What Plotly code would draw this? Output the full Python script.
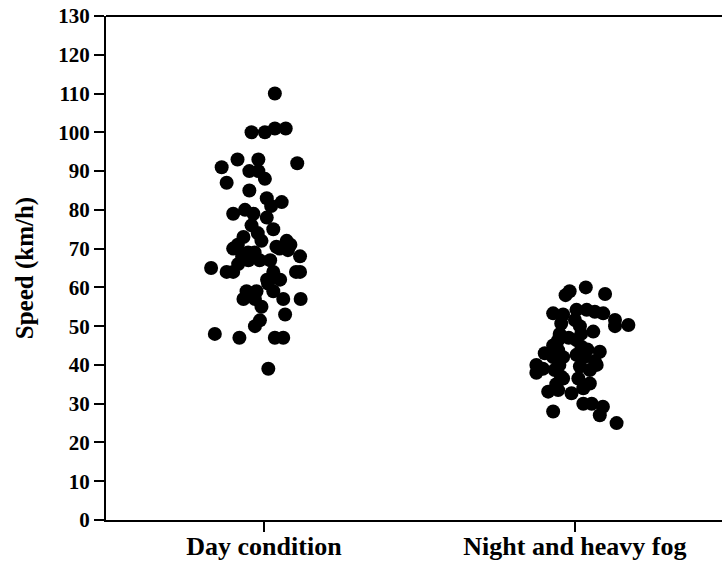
import plotly.graph_objects as go

categories = ["Day condition", "Night and heavy fog"]
cat_pos = [1, 2]

# Day condition: horizontal jitter offsets (category units) and speeds (km/h)
day_jitter = [0.035, -0.04, 0.003, 0.035, 0.07, -0.136, -0.085, -0.018, 0.107,
              -0.047, -0.018, 0.003, -0.12, -0.047, 0.009, 0.057, 0.023,
              -0.099, -0.061, -0.034, 0.009, -0.04, 0.03, -0.066, 0.073,
              -0.099, -0.008, 0.04, 0.077, 0.116, -0.083, -0.05, -0.051,
              -0.014, 0.02, 0.116, -0.17, -0.12, -0.099, 0.103, 0.03, 0.052,
              -0.056, -0.024, 0.03, -0.066, -0.029, 0.062, 0.118, -0.008,
              0.068, -0.013, -0.029, -0.158, -0.079, 0.035, 0.062, 0.014,
              0.013, -0.084, -0.02, 0.05, -0.07, 0.01, 0.085, -0.03]
day_speed = [110, 100, 100, 101, 101, 91, 93, 93, 92,
             90, 90, 88, 87, 85, 83, 82, 81,
             79, 80, 79, 78, 76, 75, 73, 72,
             70, 72, 70.5, 69.6, 68, 66, 67, 69,
             67, 67, 64, 65, 64, 64, 64, 64, 62,
             59, 59, 59, 57, 57, 57, 57, 55,
             53, 51.5, 50, 48, 47, 47, 47, 39,
             61, 71, 74, 70, 68, 62, 71, 69]

# Night and heavy fog: horizontal jitter offsets and speeds (km/h)
night_jitter = [-0.03, -0.017, 0.035, 0.097, -0.07, -0.038, 0.005, 0.038, 0.064,
                0.091, 0.129, 0.129, 0.172, -0.044, 0.0, 0.016, 0.059, -0.049,
                -0.054, 0.005, 0.021, -0.097, -0.054, 0.08, -0.124, -0.103,
                -0.124, -0.07, -0.038, 0.005, 0.064, 0.048, 0.016, -0.065,
                -0.038, 0.011, 0.048, -0.086, -0.054, -0.011, 0.027, 0.027,
                0.054, 0.09, 0.08, -0.07, 0.134, -0.07, -0.02, 0.04,
                -0.05, -0.06, 0.02, 0.03, -0.045, 0.07]
night_speed = [58, 59, 60, 58.3, 53.3, 53, 54.2, 54.2, 53.7,
               53.3, 51.6, 50, 50.3, 50.7, 51.6, 50, 48.6, 48,
               46.4, 46.4, 44.7, 43, 43.8, 43.4, 40, 39,
               38, 42, 42, 42.6, 41, 38.7, 39.6, 38.7,
               36.5, 36.5, 35.2, 33.1, 33.5, 32.7, 34, 30,
               30, 29.2, 27, 28, 25, 45, 47, 44,
               40, 35, 48, 42, 37, 40]

y_ticks = list(range(0, 131, 10))

fig = go.Figure()
for pos, jit, spd in [(cat_pos[0], day_jitter, day_speed),
                      (cat_pos[1], night_jitter, night_speed)]:
    fig.add_trace(go.Scatter(
        x=[pos + j for j in jit], y=spd, mode="markers",
        marker=dict(size=14, color="black", line=dict(width=0)),
        showlegend=False, cliponaxis=False))

font_family = "Liberation Serif"
fig.update_layout(
    width=722, height=563,
    margin=dict(l=106, r=0, t=16, b=43),
    paper_bgcolor="white", plot_bgcolor="white",
    font=dict(family=font_family, color="black"),
    xaxis=dict(range=[0.492, 2.473], tickvals=cat_pos, ticktext=categories,
               automargin=False, ticklabelstandoff=-8,
               showgrid=False, zeroline=False, showline=True, linecolor="black",
               linewidth=2, ticks="outside", ticklen=10, tickwidth=2,
               tickcolor="black",
               tickfont=dict(family=font_family, size=26, color="black", weight="bold")),
    yaxis=dict(range=[0, 130], tickvals=y_ticks, automargin=False,
               showgrid=False, zeroline=False, showline=True, linecolor="black",
               linewidth=2, ticks="outside", ticklen=10, tickwidth=2,
               tickcolor="black",
               tickfont=dict(family=font_family, size=21, color="black", weight="bold"),
               title=dict(text="Speed (km/h)", standoff=18,
                          font=dict(family=font_family, size=25, color="black", weight="bold"))),
    shapes=[dict(type="line", xref="paper", yref="paper", x0=0, x1=1, y0=1, y1=1,
                 line=dict(color="black", width=2))],
)

fig.write_html("out.html")
